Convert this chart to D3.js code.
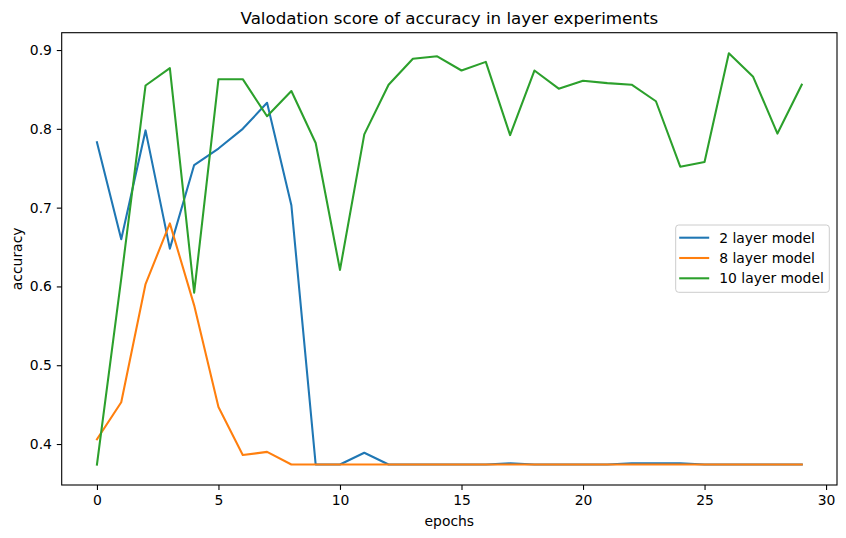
<!DOCTYPE html>
<html>
<head>
<meta charset="utf-8">
<script src="https://cdn.jsdelivr.net/npm/d3@7"></script>
<style>
  body { margin: 0; background: #fff; }
  text { font-family: "DejaVu Sans", sans-serif; fill: #000; }
</style>
</head>
<body>
<script>
// epochs 0..29
var epochs = d3.range(0, 30);

var twoLayer = [0.783, 0.660, 0.798, 0.648, 0.754, 0.775, 0.800, 0.833, 0.703, 0.374,
                0.374, 0.389, 0.374, 0.374, 0.374, 0.374, 0.374, 0.3755, 0.374, 0.374,
                0.374, 0.374, 0.3755, 0.3755, 0.3755, 0.374, 0.374, 0.374, 0.374, 0.374];

var eightLayer = [0.406, 0.453, 0.603, 0.680, 0.576, 0.447, 0.386, 0.390, 0.374, 0.374,
                  0.374, 0.374, 0.374, 0.374, 0.374, 0.374, 0.374, 0.374, 0.374, 0.374,
                  0.374, 0.374, 0.374, 0.374, 0.374, 0.374, 0.374, 0.374, 0.374, 0.374];

var tenLayer = [0.374, 0.610, 0.855, 0.877, 0.592, 0.863, 0.863, 0.816, 0.848, 0.782,
                0.621, 0.793, 0.856, 0.889, 0.892, 0.874, 0.885, 0.792, 0.874, 0.851,
                0.861, 0.858, 0.856, 0.835, 0.752, 0.758, 0.896, 0.866, 0.794, 0.856];

var seriesNames = ["2 layer model", "8 layer model", "10 layer model"];
var seriesColors = ["#1f77b4", "#ff7f0e", "#2ca02c"];
var xTicks = [0, 5, 10, 15, 20, 25, 30];
var yTicks = [0.4, 0.5, 0.6, 0.7, 0.8, 0.9];

var width = 846, height = 538;
var margin = {top: 32.7, right: 9, bottom: 53, left: 61.7};

var svg = d3.select("body").append("svg")
    .attr("width", width)
    .attr("height", height);

//matplotlib style 5% margins around the data
var x = d3.scaleLinear()
    .domain([-1.45, 30.45])
    .range([margin.left, width - margin.right]);

var y = d3.scaleLinear()
    .domain([0.348, 0.922])
    .range([height - margin.bottom, margin.top]);

var allSeries = [twoLayer, eightLayer, tenLayer];

var line = d3.line()
    .x(function(d, i) { return x(epochs[i]); })
    .y(function(d) { return y(d); });

svg.append("defs").append("clipPath").attr("id", "clip")
    .append("rect")
    .attr("x", margin.left).attr("y", margin.top)
    .attr("width", width - margin.right - margin.left)
    .attr("height", height - margin.bottom - margin.top);

svg.append("g")
    .attr("clip-path", "url(#clip)")
    .selectAll("path")
    .data(allSeries)
    .enter().append("path")
    .attr("d", line)
    .attr("fill", "none")
    .attr("stroke", function(d, i) { return seriesColors[i]; })
    .attr("stroke-width", 2.08)
    .attr("stroke-linejoin", "round")
    .attr("stroke-linecap", "square");

// axes
var xAxis = svg.append("g")
    .attr("transform", "translate(0," + (height - margin.bottom) + ")")
    .call(d3.axisBottom(x).tickValues(xTicks).tickSize(4.9).tickPadding(4.9).tickFormat(d3.format("d")));

var yAxis = svg.append("g")
    .attr("transform", "translate(" + margin.left + ",0)")
    .call(d3.axisLeft(y).tickValues(yTicks).tickSize(4.9).tickPadding(4.9).tickFormat(d3.format(".1f")));

[xAxis, yAxis].forEach(function(a) {
    a.select(".domain").remove();
    a.selectAll("line").attr("stroke", "#000").attr("stroke-width", 1.1);
    a.selectAll("text").attr("font-size", "13.9px").attr("font-family", "DejaVu Sans").attr("fill", "#000");
});

// frame
svg.append("rect")
    .attr("x", margin.left).attr("y", margin.top)
    .attr("width", width - margin.right - margin.left)
    .attr("height", height - margin.bottom - margin.top)
    .attr("fill", "none")
    .attr("stroke", "#000")
    .attr("stroke-width", 1.1);

// title and labels
svg.append("text")
    .attr("x", (margin.left + width - margin.right) / 2)
    .attr("y", 24)
    .attr("text-anchor", "middle")
    .attr("font-size", "16.7px")
    .text("Valodation score of accuracy in layer experiments");

svg.append("text")
    .attr("x", (margin.left + width - margin.right) / 2)
    .attr("y", 526)
    .attr("text-anchor", "middle")
    .attr("font-size", "13.9px")
    .text("epochs");

svg.append("text")
    .attr("transform", "translate(22," + ((margin.top + height - margin.bottom) / 2) + ") rotate(-90)")
    .attr("text-anchor", "middle")
    .attr("font-size", "13.9px")
    .text("accuracy");

// legend
var legend = svg.append("g").attr("transform", "translate(675.7,225)");

legend.append("rect")
    .attr("width", 153.6)
    .attr("height", 67.3)
    .attr("rx", 3)
    .attr("fill", "#fff")
    .attr("fill-opacity", 0.8)
    .attr("stroke", "#cccccc")
    .attr("stroke-width", 1);

var items = legend.selectAll(".item")
    .data(seriesNames)
    .enter().append("g")
    .attr("class", "item")
    .attr("transform", function(d, i) { return "translate(0," + (12.7 + i * 20.3) + ")"; });

items.append("line")
    .attr("x1", 3.5).attr("x2", 33.5)
    .attr("stroke", function(d, i) { return seriesColors[i]; })
    .attr("stroke-width", 2.08);

items.append("text")
    .attr("x", 43.5)
    .attr("y", 5)
    .attr("font-size", "13.9px")
    .text(function(d) { return d; });
</script>
</body>
</html>
